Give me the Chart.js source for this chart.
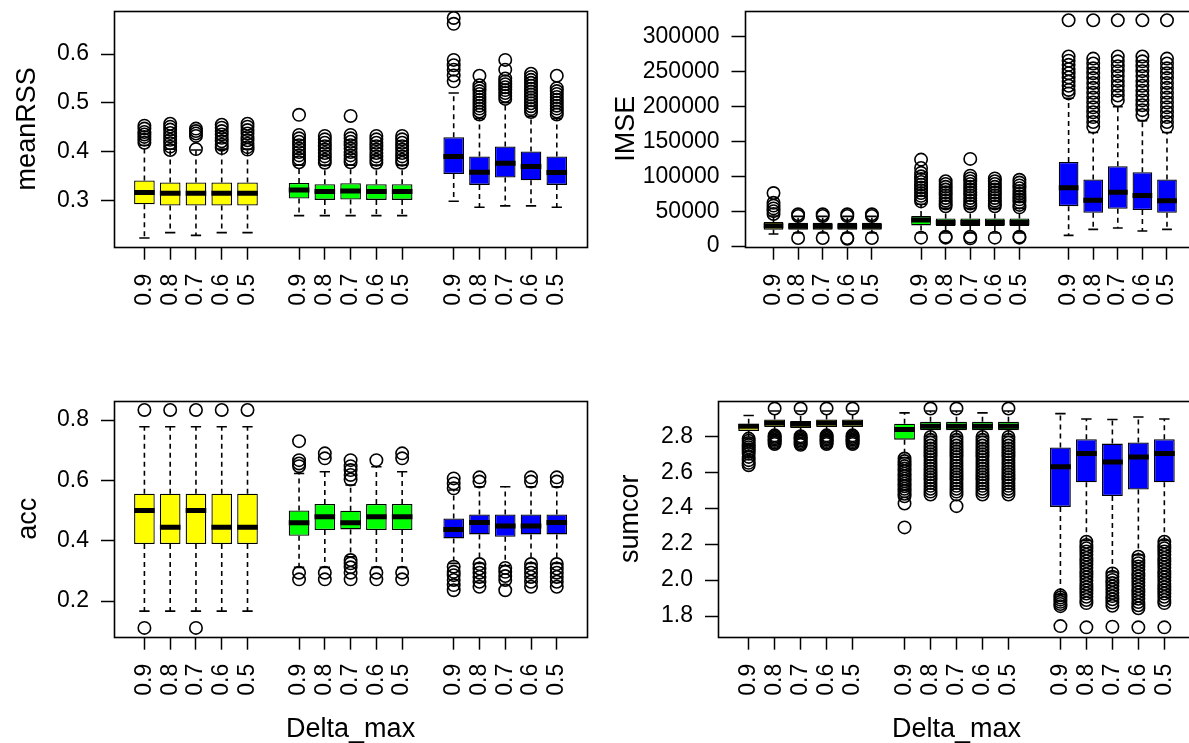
<!DOCTYPE html>
<html>
<head>
<meta charset="utf-8">
<script src="https://cdn.jsdelivr.net/npm/chart.js@4.4.1/dist/chart.umd.min.js"></script>
<style>
  html, body { margin: 0; padding: 0; background: #fff; overflow: hidden; width: 1189px; height: 743px; }
  canvas { position: absolute; }
</style>
</head>
<body>
<canvas id="rss" width="595" height="371" style="left:0;top:0"></canvas>
<canvas id="imse" width="610" height="371" style="left:595px;top:0"></canvas>
<canvas id="acc" width="595" height="372" style="left:0;top:371px"></canvas>
<canvas id="sumcor" width="610" height="372" style="left:595px;top:371px"></canvas>
<script>
// box positions (three groups of five) and their labels
const boxPos = [1, 2, 3, 4, 5, 7, 8, 9, 10, 11, 13, 14, 15, 16, 17];
const boxLabels = ['0.9', '0.8', '0.7', '0.6', '0.5', '0.9', '0.8', '0.7', '0.6', '0.5', '0.9', '0.8', '0.7', '0.6', '0.5'];
const boxColors = ['#ffff00', '#ffff00', '#ffff00', '#ffff00', '#ffff00',
  '#00ff00', '#00ff00', '#00ff00', '#00ff00', '#00ff00',
  '#0000ff', '#0000ff', '#0000ff', '#0000ff', '#0000ff'];

// meanRSS
const rssTicks = [0.3, 0.4, 0.5, 0.6];
const rssTickLabels = ['0.3', '0.4', '0.5', '0.6'];
const rssQ1 = [0.2918, 0.289, 0.289, 0.289, 0.289, 0.3034, 0.3007, 0.3014, 0.3007, 0.3007, 0.354, 0.3315, 0.3466, 0.3411, 0.3315];
const rssMed = [0.3158, 0.3144, 0.3144, 0.3144, 0.3144, 0.3212, 0.3178, 0.3192, 0.3178, 0.3178, 0.3897, 0.3575, 0.376, 0.3692, 0.3568];
const rssQ3 = [0.3404, 0.3363, 0.3363, 0.3363, 0.3363, 0.3356, 0.3329, 0.335, 0.3329, 0.3329, 0.4295, 0.3897, 0.4103, 0.40, 0.3897];
const rssLo = [0.2226, 0.2336, 0.228, 0.2336, 0.2336, 0.2685, 0.2685, 0.2685, 0.2685, 0.2685, 0.298, 0.2856, 0.2884, 0.2884, 0.2856];
const rssHi = [0.413, 0.405, 0.403, 0.405, 0.405, 0.372, 0.372, 0.372, 0.372, 0.372, 0.52, 0.468, 0.50, 0.472, 0.468];
const rssOut = [
  [0.453, 0.447, 0.440, 0.435, 0.430, 0.424, 0.418],
  [0.457, 0.451, 0.445, 0.438, 0.431, 0.424, 0.417, 0.410, 0.403],
  [0.447, 0.442, 0.437, 0.432, 0.405],
  [0.455, 0.449, 0.442, 0.435, 0.428, 0.421, 0.414, 0.407],
  [0.457, 0.451, 0.444, 0.437, 0.430, 0.423, 0.416, 0.409, 0.404],
  [0.4753, 0.434, 0.427, 0.420, 0.413, 0.406, 0.399, 0.392, 0.385, 0.378],
  [0.432, 0.425, 0.418, 0.411, 0.404, 0.397, 0.390, 0.383, 0.377],
  [0.473, 0.434, 0.427, 0.420, 0.413, 0.406, 0.399, 0.392, 0.385, 0.378],
  [0.432, 0.425, 0.418, 0.411, 0.404, 0.397, 0.390, 0.383, 0.377],
  [0.432, 0.425, 0.418, 0.411, 0.404, 0.397, 0.390, 0.383, 0.377],
  [0.674, 0.662, 0.588, 0.577, 0.568, 0.556, 0.544],
  [0.5555, 0.536, 0.530, 0.524, 0.518, 0.512, 0.506, 0.500, 0.494, 0.488, 0.482, 0.476],
  [0.588, 0.568, 0.550, 0.544, 0.538, 0.532, 0.526, 0.520, 0.514, 0.508],
  [0.5596, 0.553, 0.547, 0.541, 0.535, 0.529, 0.523, 0.517, 0.511, 0.505, 0.499, 0.493, 0.487, 0.481],
  [0.5555, 0.530, 0.524, 0.518, 0.512, 0.506, 0.500, 0.494, 0.488, 0.482, 0.476]
];

// IMSE
const imseTicks = [0, 50000, 100000, 150000, 200000, 250000, 300000];
const imseTickLabels = ['0', '50000', '100000', '150000', '200000', '250000', '300000'];
const imseQ1 = [23500, 23500, 23500, 23500, 23500, 29600, 28600, 28600, 28600, 28600, 57200, 47700, 53400, 51500, 47700];
const imseMed = [29000, 28500, 28500, 28500, 28500, 37200, 33900, 33900, 33900, 33900, 83500, 65800, 77300, 72500, 65000];
const imseQ3 = [34500, 33500, 33500, 33500, 33500, 42900, 39600, 39600, 39600, 39600, 120700, 95400, 114500, 105900, 95400];
const imseLo = [17200, 18700, 18700, 18700, 18700, 18700, 18700, 18700, 18700, 18700, 15300, 23900, 25800, 21500, 23900];
const imseHi = [43000, 42500, 42500, 42500, 42500, 60000, 54000, 54000, 54000, 54000, 212000, 163000, 200000, 180000, 163000];
const imseOut = [
  [76000, 62000, 58000, 54000, 50000, 46000],
  [45500, 43100, 11500],
  [45500, 43100, 11500],
  [45500, 43100, 11500, 10500],
  [45500, 43100, 11500],
  [124000, 112000, 105000, 100000, 96000, 92000, 88000, 84000, 80000, 76000, 72000, 68000, 64000, 12000],
  [93000, 89000, 85000, 81000, 77000, 73000, 69000, 65000, 61000, 57000, 13400, 12000],
  [125000, 101000, 97000, 93000, 89000, 85000, 81000, 77000, 73000, 69000, 65000, 61000, 57000, 13400, 11000],
  [97000, 93000, 89000, 85000, 81000, 77000, 73000, 69000, 65000, 61000, 57000, 12000],
  [95000, 91000, 87000, 83000, 79000, 75000, 71000, 67000, 63000, 59000, 55500, 13400, 12000],
  [324000, 272000, 266000, 260000, 254000, 248000, 242000, 236000, 230000, 224000, 219000],
  [324000, 269000, 262000, 255000, 248000, 241000, 234000, 227000, 220000, 213000, 206000, 199000, 192000, 185000, 178000, 171000],
  [324000, 272000, 265000, 258000, 251000, 244000, 237000, 230000, 223000, 216000, 209000],
  [324000, 272000, 265000, 258000, 251000, 244000, 237000, 230000, 223000, 216000, 209000, 202000, 195000, 188000],
  [324000, 269000, 262000, 255000, 248000, 241000, 234000, 227000, 220000, 213000, 206000, 199000, 192000, 185000, 178000, 171000]
];

// acc
const accTicks = [0.2, 0.4, 0.6, 0.8];
const accTickLabels = ['0.2', '0.4', '0.6', '0.8'];
const accQ1 = [0.3889, 0.3889, 0.3889, 0.3889, 0.3889, 0.4167, 0.4354, 0.4376, 0.4354, 0.4354, 0.4077, 0.421, 0.4133, 0.421, 0.421];
const accMed = [0.5, 0.4444, 0.5, 0.4444, 0.4444, 0.4597, 0.4796, 0.4597, 0.4796, 0.4796, 0.4376, 0.4608, 0.4486, 0.4486, 0.4608];
const accQ3 = [0.5556, 0.5556, 0.5556, 0.5556, 0.5556, 0.5, 0.5215, 0.4994, 0.5215, 0.5215, 0.474, 0.487, 0.487, 0.487, 0.487];
const accLo = [0.1667, 0.1667, 0.1667, 0.1667, 0.1667, 0.3116, 0.3116, 0.347, 0.3116, 0.3116, 0.325, 0.325, 0.318, 0.325, 0.325];
const accHi = [0.7778, 0.7778, 0.7778, 0.7778, 0.7778, 0.623, 0.6287, 0.5845, 0.645, 0.6287, 0.568, 0.579, 0.579, 0.579, 0.579];
const accOut = [
  [0.8333, 0.1111],
  [0.8333],
  [0.8333, 0.1111],
  [0.8333],
  [0.8333],
  [0.730, 0.667, 0.656, 0.647, 0.294, 0.272],
  [0.6895, 0.673, 0.294, 0.272],
  [0.667, 0.647, 0.634, 0.618, 0.603, 0.336, 0.325, 0.312, 0.294, 0.272],
  [0.667, 0.294, 0.272],
  [0.6895, 0.673, 0.294, 0.272],
  [0.6066, 0.590, 0.5735, 0.314, 0.297, 0.286, 0.270, 0.253, 0.236],
  [0.610, 0.596, 0.3227, 0.308, 0.294, 0.280, 0.264, 0.2475],
  [0.310, 0.297, 0.283, 0.270, 0.236],
  [0.610, 0.596, 0.3227, 0.308, 0.294, 0.280, 0.264, 0.2475],
  [0.610, 0.596, 0.3227, 0.308, 0.294, 0.280, 0.264, 0.2475]
];

// sumcor
const sumTicks = [1.8, 2.0, 2.2, 2.4, 2.6, 2.8];
const sumTickLabels = ['1.8', '2.0', '2.2', '2.4', '2.6', '2.8'];
const sumQ1 = [2.8296, 2.852, 2.846, 2.852, 2.852, 2.781, 2.833, 2.833, 2.833, 2.833, 2.407, 2.544, 2.467, 2.504, 2.544];
const sumMed = [2.855, 2.874, 2.866, 2.874, 2.874, 2.837, 2.856, 2.856, 2.856, 2.856, 2.63, 2.704, 2.657, 2.685, 2.704];
const sumQ3 = [2.870, 2.893, 2.885, 2.893, 2.893, 2.870, 2.880, 2.880, 2.880, 2.880, 2.737, 2.783, 2.759, 2.765, 2.783];
const sumLo = [2.79, 2.81, 2.805, 2.81, 2.81, 2.68, 2.80, 2.80, 2.80, 2.80, 1.92, 2.22, 2.045, 2.14, 2.22];
const sumHi = [2.915, 2.94, 2.94, 2.94, 2.94, 2.93, 2.94, 2.94, 2.93, 2.94, 2.926, 2.896, 2.893, 2.907, 2.896];
const sumOut = [
  [2.787, 2.775, 2.763, 2.751, 2.739, 2.727, 2.715, 2.703, 2.685, 2.667, 2.652, 2.639],
  [2.954, 2.805, 2.797, 2.789, 2.781, 2.773, 2.765, 2.757],
  [2.954, 2.800, 2.792, 2.784, 2.776, 2.768, 2.760, 2.752],
  [2.954, 2.805, 2.797, 2.789, 2.781, 2.773, 2.765, 2.757],
  [2.954, 2.805, 2.797, 2.789, 2.781, 2.773, 2.765, 2.757],
  [2.676, 2.662, 2.648, 2.634, 2.620, 2.606, 2.592, 2.578, 2.564, 2.550, 2.536, 2.522, 2.508, 2.494, 2.480, 2.466, 2.426, 2.293],
  [2.954, 2.796, 2.780, 2.764, 2.748, 2.732, 2.716, 2.700, 2.684, 2.668, 2.652, 2.636, 2.620, 2.604, 2.588, 2.572, 2.556, 2.540, 2.524, 2.508, 2.492, 2.476],
  [2.954, 2.796, 2.780, 2.764, 2.748, 2.732, 2.716, 2.700, 2.684, 2.668, 2.652, 2.636, 2.620, 2.604, 2.588, 2.572, 2.556, 2.540, 2.524, 2.508, 2.492, 2.476, 2.411],
  [2.796, 2.780, 2.764, 2.748, 2.732, 2.716, 2.700, 2.684, 2.668, 2.652, 2.636, 2.620, 2.604, 2.588, 2.572, 2.556, 2.540, 2.524, 2.508, 2.492, 2.476],
  [2.954, 2.796, 2.780, 2.764, 2.748, 2.732, 2.716, 2.700, 2.684, 2.668, 2.652, 2.636, 2.620, 2.604, 2.588, 2.572, 2.556, 2.540, 2.524, 2.508, 2.492, 2.476],
  [1.915, 1.903, 1.891, 1.879, 1.867, 1.855, 1.744],
  [2.213, 2.195, 2.177, 2.159, 2.141, 2.123, 2.105, 2.087, 2.069, 2.051, 2.033, 2.015, 1.997, 1.979, 1.961, 1.943, 1.925, 1.907, 1.889, 1.872, 1.737],
  [2.037, 2.019, 2.001, 1.983, 1.965, 1.947, 1.929, 1.911, 1.893, 1.875, 1.857, 1.741],
  [2.130, 2.112, 2.094, 2.076, 2.058, 2.040, 2.022, 2.004, 1.986, 1.968, 1.950, 1.932, 1.914, 1.896, 1.878, 1.860, 1.843, 1.737],
  [2.213, 2.195, 2.177, 2.159, 2.141, 2.123, 2.105, 2.087, 2.069, 2.051, 2.033, 2.015, 1.997, 1.979, 1.961, 1.943, 1.925, 1.907, 1.889, 1.872, 1.737]
];

const FONT = '"Liberation Sans", Arial, Helvetica, sans-serif';
const BOX_HALF = 0.4;     // boxwex 0.8
const STAPLE_HALF = 0.2;  // staplewex 0.5

// R-style frame around the plot region
const framePlugin = {
  id: 'frame',
  afterDraw(chart) {
    const a = chart.chartArea, ctx = chart.ctx;
    ctx.save();
    ctx.strokeStyle = '#000';
    ctx.lineWidth = 1.6;
    ctx.strokeRect(Math.round(a.left) + 0.5, Math.round(a.top) + 0.5, Math.round(a.right - a.left), Math.round(a.bottom - a.top));
    ctx.restore();
  }
};

function boxDatasets(q1, med, q3, lo, hi, out) {
  const whiskers = [], staples = [], medians = [], points = [];
  boxPos.forEach((p, i) => {
    whiskers.push({x: p, y: q3[i]}, {x: p, y: hi[i]}, {x: p, y: null},
                  {x: p, y: q1[i]}, {x: p, y: lo[i]}, {x: p, y: null});
    staples.push({x: p - STAPLE_HALF, y: hi[i]}, {x: p + STAPLE_HALF, y: hi[i]}, {x: p + STAPLE_HALF, y: null},
                 {x: p - STAPLE_HALF, y: lo[i]}, {x: p + STAPLE_HALF, y: lo[i]}, {x: p + STAPLE_HALF, y: null});
    medians.push({x: p - BOX_HALF, y: med[i]}, {x: p + BOX_HALF, y: med[i]}, {x: p + BOX_HALF, y: null});
    out[i].forEach(v => points.push({x: p, y: v}));
  });
  return [
    {
      type: 'scatter', data: points, order: 0,
      pointStyle: 'circle', pointRadius: 6.2, borderWidth: 1.6,
      borderColor: '#000', backgroundColor: 'rgba(0,0,0,0)'
    },
    {
      type: 'line', data: medians, order: 1, spanGaps: false,
      borderColor: '#000', borderWidth: 5, pointRadius: 0, borderCapStyle: 'butt'
    },
    {
      type: 'line', data: staples, order: 2, spanGaps: false,
      borderColor: '#000', borderWidth: 1.6, pointRadius: 0
    },
    {
      type: 'line', data: whiskers, order: 3, spanGaps: false,
      borderColor: '#000', borderWidth: 1.6, borderDash: [5, 4], pointRadius: 0
    },
    {
      type: 'bar', order: 4,
      data: boxPos.map((p, i) => ({x: p, y: [q1[i], q3[i]]})),
      backgroundColor: boxColors, borderColor: '#000', borderWidth: 1.3,
      borderSkipped: false, categoryPercentage: 1, barPercentage: 0.8
    }
  ];
}

function makePanel(id, cfg) {
  const ds = boxDatasets(cfg.q1, cfg.med, cfg.q3, cfg.lo, cfg.hi, cfg.out);
  const tickGrid = { drawOnChartArea: false, drawTicks: true, tickLength: 13, color: '#000', tickWidth: 1.5, offset: false };
  new Chart(document.getElementById(id), {
    type: 'bar',
    data: { datasets: ds },
    plugins: [framePlugin],
    options: {
      responsive: false,
      animation: false,
      layout: { padding: cfg.padding },
      plugins: { legend: { display: false }, tooltip: { enabled: false } },
      scales: {
        x: {
          type: 'linear', min: -0.18, max: 18.18, offset: false,
          afterBuildTicks: s => { s.ticks = boxPos.map(v => ({value: v})); },
          ticks: {
            autoSkip: false, minRotation: 90, maxRotation: 90, padding: 14,
            color: '#000', font: { family: FONT, size: 23 },
            callback: (v, i) => boxLabels[i]
          },
          grid: tickGrid,
          border: { display: false },
          title: {
            display: cfg.xTitle, text: 'Delta_max', color: '#000',
            font: { family: FONT, size: 27, lineHeight: 1.0 }, padding: { top: 0, bottom: 0 }
          },
          afterFit: s => { s.height = cfg.xHeight; s.paddingLeft = 0; s.paddingRight = 0; }
        },
        y: {
          type: 'linear', min: cfg.yMin, max: cfg.yMax,
          afterBuildTicks: s => { s.ticks = cfg.ticks.map(v => ({value: v})); },
          ticks: {
            padding: 12, color: '#000', font: { family: FONT, size: 23 },
            callback: (v, i) => cfg.tickLabels[i]
          },
          grid: tickGrid,
          border: { display: false },
          title: {
            display: true, text: cfg.yTitle, color: '#000',
            font: { family: FONT, size: 27 }, padding: { top: cfg.titlePad, bottom: 0 }
          },
          afterFit: s => { s.width = cfg.yWidth; s.paddingTop = 0; s.paddingBottom = 0; }
        }
      }
    }
  });
}

makePanel('rss', {
  q1: rssQ1, med: rssMed, q3: rssQ3, lo: rssLo, hi: rssHi, out: rssOut,
  ticks: rssTicks, tickLabels: rssTickLabels, yMin: 0.2047, yMax: 0.6883,
  yTitle: 'meanRSS', titlePad: 11, yWidth: 114, xHeight: 124.3, xTitle: false,
  padding: { top: 11, right: 4.3, left: 0, bottom: 0 }
});
makePanel('imse', {
  q1: imseQ1, med: imseMed, q3: imseQ3, lo: imseLo, hi: imseHi, out: imseOut,
  ticks: imseTicks, tickLabels: imseTickLabels, yMin: -1000, yMax: 337300,
  yTitle: 'IMSE', titlePad: 15, yWidth: 149.5, xHeight: 124.3, xTitle: false,
  padding: { top: 11, right: 9, left: 0, bottom: 0 }
});
makePanel('acc', {
  q1: accQ1, med: accMed, q3: accQ3, lo: accLo, hi: accHi, out: accOut,
  ticks: accTicks, tickLabels: accTickLabels, yMin: 0.082, yMax: 0.863,
  yTitle: 'acc', titlePad: 12, yWidth: 114, xHeight: 106.3, xTitle: true,
  padding: { top: 30, right: 4.3, left: 0, bottom: 0 }
});
makePanel('sumcor', {
  q1: sumQ1, med: sumMed, q3: sumQ3, lo: sumLo, hi: sumHi, out: sumOut,
  ticks: sumTicks, tickLabels: sumTickLabels, yMin: 1.685, yMax: 2.996,
  yTitle: 'sumcor', titlePad: 19, yWidth: 123, xHeight: 106.3, xTitle: true,
  padding: { top: 30, right: 10, left: 0, bottom: 0 }
});
</script>
</body>
</html>
